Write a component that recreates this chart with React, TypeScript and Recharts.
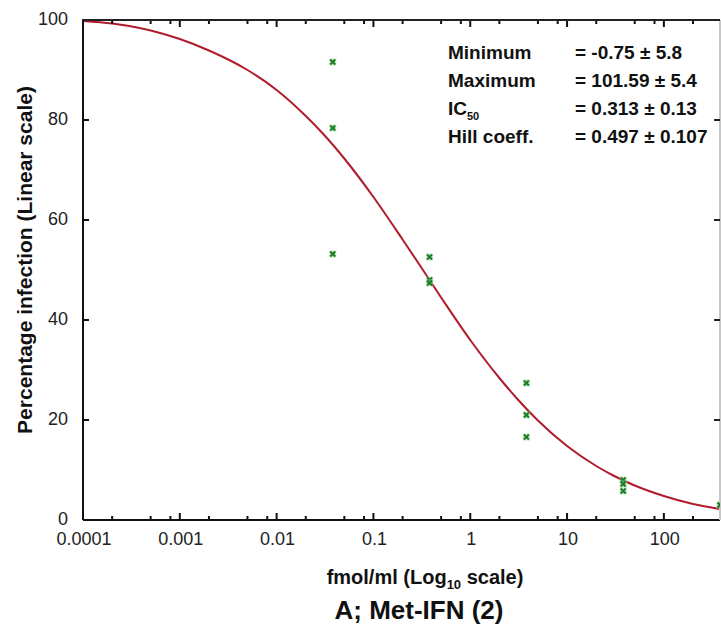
import { ComposedChart, Line, Scatter, XAxis, YAxis } from 'recharts';

// fitted curve
const curveDose = [0.0001, 0.0002, 0.0003, 0.0005, 0.001, 0.002, 0.005, 0.01, 0.02, 0.03, 0.05, 0.1, 0.2, 0.3, 0.5, 1, 2, 3, 5, 10, 20, 30, 50, 100, 200, 380];
const curvePct = [99.8, 99.3, 98.8, 97.9, 96.2, 93.9, 90, 86, 80.8, 77.3, 72.3, 64.6, 56.1, 51, 44.5, 36, 28.4, 24.4, 19.9, 14.8, 10.8, 8.9, 6.9, 4.8, 3.2, 2.2];

// measured points
const pointDose = [0.038, 0.038, 0.038, 0.38, 0.38, 0.38, 3.8, 3.8, 3.8, 38, 38, 38, 380];
const pointPct = [91.6, 78.4, 53.2, 52.6, 48, 47.4, 27.4, 21, 16.6, 8, 7.2, 5.8, 3];

const majorTicks = [0.0001, 0.001, 0.01, 0.1, 1, 10, 100];
const majorLabels = ['0.0001', '0.001', '0.01', '0.1', '1', '10', '100'];
const minorSteps = [2, 5, 8];
const yTicks = [0, 20, 40, 60, 80, 100];

const stats = [
  { name: 'Minimum', value: '= -0.75 ± 5.8' },
  { name: 'Maximum', value: '= 101.59 ± 5.4' },
  { name: 'IC', sub: '50', value: '= 0.313 ± 0.13' },
  { name: 'Hill coeff.', value: '= 0.497 ± 0.107' },
];

const curve = curveDose.map((x, i) => ({ x, y: curvePct[i] }));
const points = pointDose.map((x, i) => ({ x, y: pointPct[i] }));

const xTicks: number[] = [];
majorTicks.forEach((t) => {
  xTicks.push(t);
  minorSteps.forEach((m) => {
    const v = t * m;
    if (v < 380) xTicks.push(v);
  });
});

const FONT = '"Liberation Sans", Arial, sans-serif';
const TOP = 20;
const BOTTOM = 520;
const LEFT = 83;
const RIGHT = 720;

const majorIndex = (v: number) => majorTicks.findIndex((t) => Math.abs(t - v) / t < 1e-6);

// bottom axis tick + matching inward tick on the top frame
const BottomTick = (props: any) => {
  const { x, payload } = props;
  const idx = majorIndex(payload.value);
  const len = idx >= 0 ? 7 : 4;
  return (
    <g>
      <line x1={x} x2={x} y1={BOTTOM} y2={BOTTOM - len} stroke="#111" strokeWidth={2} />
      <line x1={x} x2={x} y1={TOP} y2={TOP + len} stroke="#111" strokeWidth={2} />
      {idx >= 0 && (
        <text x={x + 1} y={545} textAnchor="middle" fontSize={18} fontFamily={FONT} fill="#222">
          {majorLabels[idx]}
        </text>
      )}
    </g>
  );
};

const LeftTick = (props: any) => {
  const { y, payload } = props;
  const v = payload.value;
  return (
    <g>
      {v > 0 && v < 100 && <line x1={LEFT} x2={LEFT + 6} y1={y} y2={y} stroke="#111" strokeWidth={2} />}
      <text x={68} y={y + 4.5} textAnchor="end" fontSize={18} fontFamily={FONT} fill="#222">
        {v}
      </text>
    </g>
  );
};

const RightTick = (props: any) => {
  const { y, payload } = props;
  if (payload.value <= 0 || payload.value >= 100) return <g />;
  return <line x1={RIGHT} x2={RIGHT - 6} y1={y} y2={y} stroke="#222" strokeWidth={2} />;
};

const Cross = (props: any) => {
  const { cx, cy } = props;
  return (
    <g>
      <rect x={cx - 3.5} y={cy - 3.5} width={7} height={7} fill="#8fdc8f" opacity={0.55} />
      <line x1={cx - 2.5} y1={cy - 2.5} x2={cx + 2.5} y2={cy + 2.5} stroke="#1f7a2a" strokeWidth={2} />
      <line x1={cx - 2.5} y1={cy + 2.5} x2={cx + 2.5} y2={cy - 2.5} stroke="#1f7a2a" strokeWidth={2} />
    </g>
  );
};

const YTitle = () => (
  <text
    x={24}
    y={260}
    transform="rotate(-90, 24, 260)"
    textAnchor="middle"
    dominantBaseline="central"
    fontSize={21}
    fontWeight="bold"
    fontFamily={FONT}
    fill="#111"
  >
    Percentage infection (Linear scale)
  </text>
);

const XTitle = () => (
  <g>
    <text x={425} y={584} textAnchor="middle" fontSize={20} fontWeight="bold" fontFamily={FONT} fill="#111">
      fmol/ml (Log
      <tspan fontSize={13} dy={5}>10</tspan>
      <tspan dy={-5}> scale)</tspan>
    </text>
    <text x={419} y={619} textAnchor="middle" fontSize={26} fontWeight="bold" fontFamily={FONT} fill="#111">
      A; Met-IFN (2)
    </text>
  </g>
);

export default function App() {
  return (
    <div style={{ position: 'absolute', left: 0, top: 0, width: 721, height: 632, background: '#fff' }}>
      <ComposedChart width={721} height={632} data={curve} margin={{ top: TOP, right: 0, left: 0, bottom: 0 }}>
        <XAxis
          dataKey="x"
          type="number"
          scale="log"
          domain={[0.0001, 380]}
          allowDataOverflow
          ticks={xTicks}
          interval={0}
          tick={<BottomTick />}
          tickLine={false}
          axisLine={{ stroke: '#111', strokeWidth: 2 }}
          height={112}
          label={<XTitle />}
        />
        <YAxis
          type="number"
          domain={[0, 100]}
          allowDataOverflow
          ticks={yTicks}
          interval={0}
          tick={<LeftTick />}
          tickLine={false}
          axisLine={{ stroke: '#111', strokeWidth: 2 }}
          width={83}
          label={<YTitle />}
        />
        <YAxis
          yAxisId="right"
          orientation="right"
          type="number"
          domain={[0, 100]}
          allowDataOverflow
          ticks={yTicks}
          interval={0}
          tick={<RightTick />}
          tickLine={false}
          axisLine={{ stroke: '#c8c8c8', strokeWidth: 2 }}
          width={1}
        />
        {/* invisible copy so the right frame axis gets drawn */}
        <Line
          yAxisId="right"
          dataKey="y"
          stroke="none"
          dot={false}
          activeDot={false}
          legendType="none"
          isAnimationActive={false}
        />
        <Line
          dataKey="y"
          type="monotone"
          stroke="#b01c2c"
          strokeWidth={2}
          dot={false}
          isAnimationActive={false}
        />
        <Scatter data={points} dataKey="y" shape={<Cross />} isAnimationActive={false} />
      </ComposedChart>
      {/* top frame line */}
      <div style={{ position: 'absolute', left: LEFT - 1, top: TOP - 1, width: RIGHT - LEFT + 1, height: 2, background: '#222' }} />
      {stats.map((s, i) => (
        <div
          key={s.name}
          style={{
            position: 'absolute',
            top: 53 + i * 28 - 11,
            left: 448,
            height: 22,
            lineHeight: '22px',
            fontFamily: FONT,
            fontWeight: 'bold',
            fontSize: 19,
            color: '#111',
            whiteSpace: 'nowrap',
          }}
        >
          {s.name}
          {s.sub && <sub style={{ fontSize: 11, verticalAlign: -5 }}>{s.sub}</sub>}
          <span style={{ position: 'absolute', left: 575 - 448 }}>{s.value}</span>
        </div>
      ))}
    </div>
  );
}
